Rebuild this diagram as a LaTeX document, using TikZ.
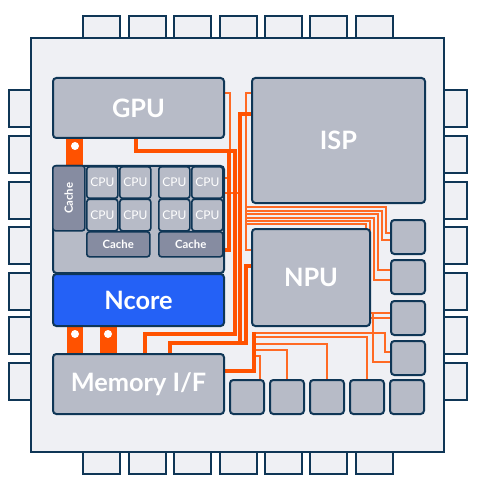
\documentclass[tikz,border=0pt]{standalone}
\usepackage{fontspec}
\setmainfont{Lato}
\definecolor{chipbg}{HTML}{EFF0F4}
\definecolor{navy}{HTML}{0F3656}
\definecolor{blockgray}{HTML}{B7BBC7}
\definecolor{cachegray}{HTML}{868CA1}
\definecolor{ncoreblue}{HTML}{2461F6}
\definecolor{orng}{HTML}{FF5200}
\definecolor{orthin}{HTML}{FF6A24}
\begin{document}
\begin{tikzpicture}[x=0.75pt,y=-0.75pt,
  pin/.style={draw=navy,fill=chipbg,line width=1.5pt},
  blk/.style={draw=navy,fill=blockgray,line width=1.5pt,rounded corners=2.5pt},
  cpubox/.style={draw=navy,fill=blockgray,line width=1.2pt,rounded corners=2pt},
  cachebox/.style={draw=navy,fill=cachegray,line width=1.2pt,rounded corners=2pt},
  bigtxt/.style={text=white,font=\bfseries\fontsize{19}{21}\selectfont},
  smalltxt/.style={text=white,font=\fontsize{9}{10}\selectfont},
  cachetxt/.style={text=white,font=\bfseries\fontsize{8.5}{10}\selectfont},
  thick bus/.style={draw=orng,line width=3pt},
  thin bus/.style={draw=orthin,line width=0.9pt},
  dot/.style={circle,fill=white,inner sep=0pt,minimum size=6pt}]
\useasboundingbox (0,0) rectangle (482,488);
% pins
\foreach \px in {83,129,174,220,265,310,356}{
  \draw[pin] (\px,16) rectangle ++(37,24);
  \draw[pin] (\px,450) rectangle ++(37,24);
}
\foreach \py in {90,136,182,227,273,317,363}{
  \draw[pin] (9,\py) rectangle ++(24,37);
  \draw[pin] (442,\py) rectangle ++(25,37);
}
% chip body
\draw[draw=navy,fill=chipbg,line width=1.5pt] (31,38) rectangle (444,452);

% thin lines
\draw[thin bus] (223,93) -- (230,93) -- (230,151);
\draw[thin bus] (222,178) -- (229,178);
\draw[thin bus] (222,193) -- (240,193);
\draw[thin bus] (251,93) -- (246,93) -- (246,250) -- (251,250);
\foreach \yy/\xx/\ty in {207/386/233, 211/382/240, 214/378/270, 218/374/280, 221/370/313}{
  \draw[thin bus] (246,\yy) -- (\xx,\yy) -- (\xx,\ty) -- (390,\ty);
}
\draw[thin bus] (246,224) -- (366,224) -- (366,318) -- (390,318);
\draw[thin bus] (254,333) -- (385,333) -- (385,352) -- (390,352);
\draw[thin bus] (254,337) -- (367,337) -- (367,379);
\draw[thin bus] (254,344) -- (327,344) -- (327,379);
\draw[thin bus] (254,350) -- (287,350) -- (287,379);
\draw[thin bus] (254,356) -- (260,356) -- (260,379);
\draw[thin bus] (373,313) -- (373,362) -- (390,362);

% thick lines
\draw[thick bus] (136,137) -- (136,151) -- (235,151) -- (235,334) -- (145,334) -- (145,353);
\draw[thick bus] (229,151) -- (229,250) -- (222,250);
\draw[thick bus] (251,114) -- (240,114) -- (240,343) -- (170,343) -- (170,353);
\draw[thick bus] (251,266) -- (246,266) -- (246,343) -- (240,343);
\draw[thick bus] (223,371) -- (254,371) -- (254,332);
\draw[thick bus] (117,256) -- (117,273);
\draw[thick bus] (190,256) -- (190,273);
% wide bars
\fill[orng] (66,135) rectangle (83,167);
\fill[orng] (67,323) rectangle (83,355);
\fill[orng] (100,323) rectangle (117,355);
\node[dot] (d1) at (75,146) {};
\node[dot] (d2) at (75,334) {};
\node[dot] (d3) at (108,334) {};

% main blocks
\node[blk,minimum width=171*0.75pt,minimum height=60*0.75pt,anchor=north west] (gpu) at (52,77) {};
\node[bigtxt] at (gpu.center) {GPU};
\node[blk,minimum width=173*0.75pt,minimum height=125*0.75pt,anchor=north west] (isp) at (251,77) {};
\node[bigtxt] at (isp.center) {ISP};
\node[blk,minimum width=118*0.75pt,minimum height=97*0.75pt,anchor=north west] (npu) at (251,228) {};
\node[bigtxt] at (npu.center) {NPU};
\node[blk,minimum width=171*0.75pt,minimum height=60*0.75pt,anchor=north west] (mem) at (52,353) {};
\node[bigtxt] at (mem.center) {Memory I/F};
% cpu cluster
\node[blk,minimum width=171*0.75pt,minimum height=107*0.75pt,anchor=north west] (clu) at (52,165) {};
\node[draw=navy,fill=ncoreblue,line width=1.5pt,rounded corners=2.5pt,minimum width=171*0.75pt,minimum height=52*0.75pt,anchor=north west] (ncore) at (52,273) {};
\node[bigtxt] at (ncore.center) {Ncore};
\node[cachebox,minimum width=32*0.75pt,minimum height=65*0.75pt,anchor=north west] (lc) at (52,165) {};
\node[cachetxt,rotate=90] at (lc.center) {Cache};
\foreach \cx/\nm in {86/a,119/b,158/c,191/d}{
  \node[cpubox,minimum width=31*0.75pt,minimum height=31.5*0.75pt,anchor=north west] (cpu\nm1) at (\cx,166) {};
  \node[smalltxt] at (cpu\nm1.center) {CPU};
  \node[cpubox,minimum width=31*0.75pt,minimum height=31.5*0.75pt,anchor=north west] (cpu\nm2) at (\cx,198.5) {};
  \node[smalltxt] at (cpu\nm2.center) {CPU};
}
\node[cachebox,minimum width=63*0.75pt,minimum height=25*0.75pt,anchor=north west] (c1) at (86,231) {};
\node[cachetxt] at (c1.center) {Cache};
\node[cachebox,minimum width=64*0.75pt,minimum height=25*0.75pt,anchor=north west] (c2) at (158,231) {};
\node[cachetxt] at (c2.center) {Cache};
% small squares
\foreach \yy/\nm in {219/r1,259/r2,300/r3,340/r4}{
  \node[blk,minimum width=34*0.75pt,minimum height=34*0.75pt,anchor=north west] (\nm) at (390,\yy) {};
}
\foreach \xx/\nm in {229/b1,269/b2,309/b3,349/b4,389/b5}{
  \node[blk,minimum width=34*0.75pt,minimum height=34*0.75pt,anchor=north west] (\nm) at (\xx,379) {};
}
\end{tikzpicture}
\end{document}
